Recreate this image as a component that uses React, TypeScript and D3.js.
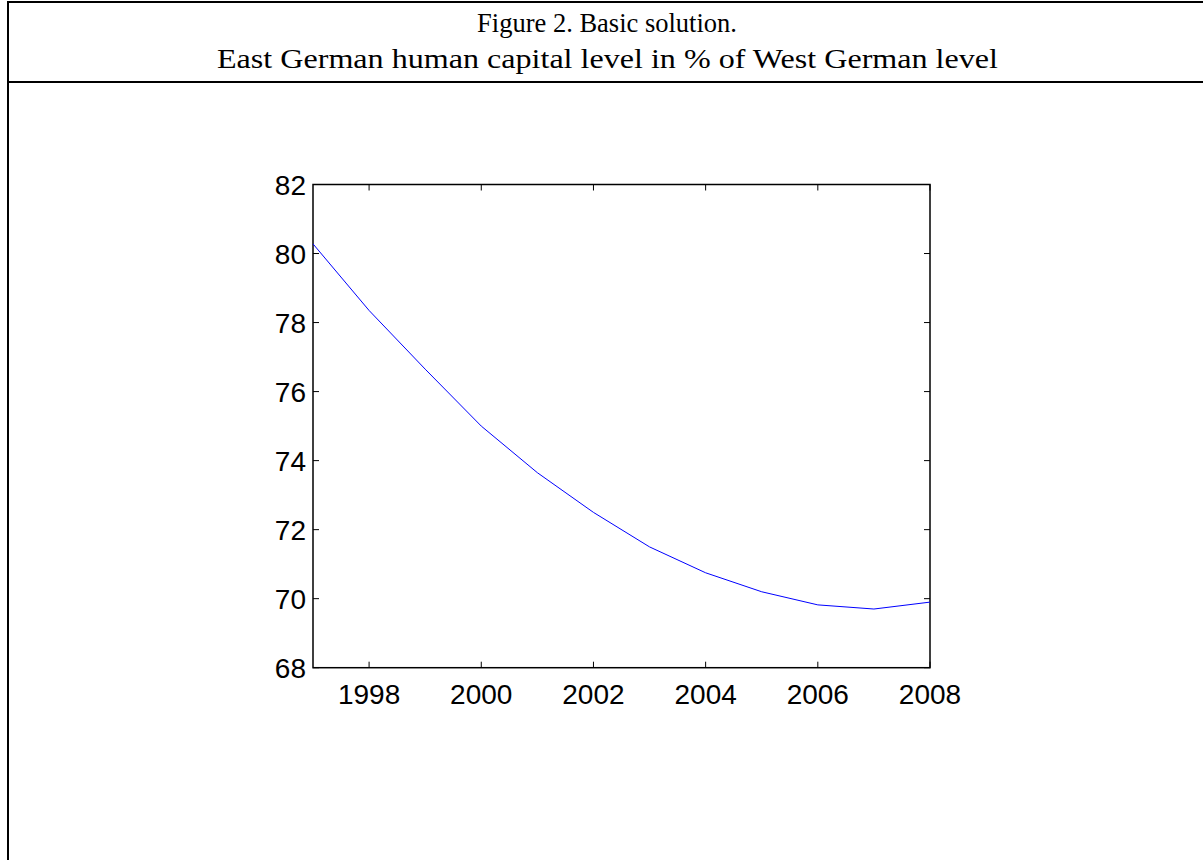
import React from "react";
import * as d3 from "d3";

const years = [1997, 1998, 1999, 2000, 2001, 2002, 2003, 2004, 2005, 2006, 2007, 2008];
const humanCapital = [80.28, 78.35, 76.65, 75.0, 73.65, 72.5, 71.5, 70.75, 70.2, 69.82, 69.7, 69.9];
const xTicks = [1998, 2000, 2002, 2004, 2006, 2008];
const yTicks = [68, 70, 72, 74, 76, 78, 80, 82];
const titleLines = ["Figure 2. Basic solution.", "East German human capital level in % of West German level"];

const W = 1203;
const H = 860;
const plot = { left: 313, right: 930, top: 184.5, bottom: 667.7 };
const tickLen = 6;

export default function App() {
  const x = d3.scaleLinear().domain([1997, 2008]).range([plot.left, plot.right]);
  const y = d3.scaleLinear().domain([68, 82]).range([plot.bottom, plot.top]);
  const line = d3
    .line<number>()
    .x((_, i) => x(years[i]))
    .y((d) => y(d));

  return (
    <svg
      width={W}
      height={H}
      style={{ position: "absolute", left: 0, top: 0, background: "#fff" }}
    >
      <rect x={0} y={0} width={W} height={H} fill="#fff" />
      {/* frame lines */}
      <line x1={8} y1={1} x2={8} y2={H} stroke="#000" strokeWidth={2} />
      <line x1={7} y1={2} x2={W} y2={2} stroke="#000" strokeWidth={2} />
      <line x1={7} y1={82} x2={W} y2={82} stroke="#000" strokeWidth={2} />
      {/* titles */}
      <g fontFamily="'Liberation Serif', 'Times New Roman', serif" fill="#000" textAnchor="middle">
        <text x={607} y={32} fontSize={26.5}>{titleLines[0]}</text>
        <text x={607.5} y={67.5} fontSize={27} textLength={781} lengthAdjust="spacingAndGlyphs">{titleLines[1]}</text>
      </g>
      {/* axes box */}
      <rect
        x={plot.left}
        y={plot.top}
        width={plot.right - plot.left}
        height={plot.bottom - plot.top}
        fill="none"
        stroke="#000"
        strokeWidth={1.5}
      />
      {/* ticks */}
      <g stroke="#000" strokeWidth={1}>
        {xTicks.map((t) => (
          <g key={"xt" + t}>
            <line x1={x(t)} x2={x(t)} y1={plot.bottom} y2={plot.bottom - tickLen} />
            <line x1={x(t)} x2={x(t)} y1={plot.top} y2={plot.top + tickLen} />
          </g>
        ))}
        {yTicks.map((t) => (
          <g key={"yt" + t}>
            <line x1={plot.left} x2={plot.left + tickLen} y1={y(t)} y2={y(t)} />
            <line x1={plot.right} x2={plot.right - tickLen} y1={y(t)} y2={y(t)} />
          </g>
        ))}
      </g>
      <g fontFamily="'Liberation Sans', Arial, sans-serif" fontSize={28} fill="#000">
        {xTicks.map((t) => (
          <text key={"xl" + t} x={x(t)} y={plot.bottom + 36} textAnchor="middle">
            {t}
          </text>
        ))}
        {yTicks.map((t) => (
          <text key={"yl" + t} x={plot.left - 7} y={y(t) + 10} textAnchor="end">
            {t}
          </text>
        ))}
      </g>
      {/* data line */}
      <path d={line(humanCapital) || ""} fill="none" stroke="#0000ff" strokeWidth={1} />
    </svg>
  );
}
